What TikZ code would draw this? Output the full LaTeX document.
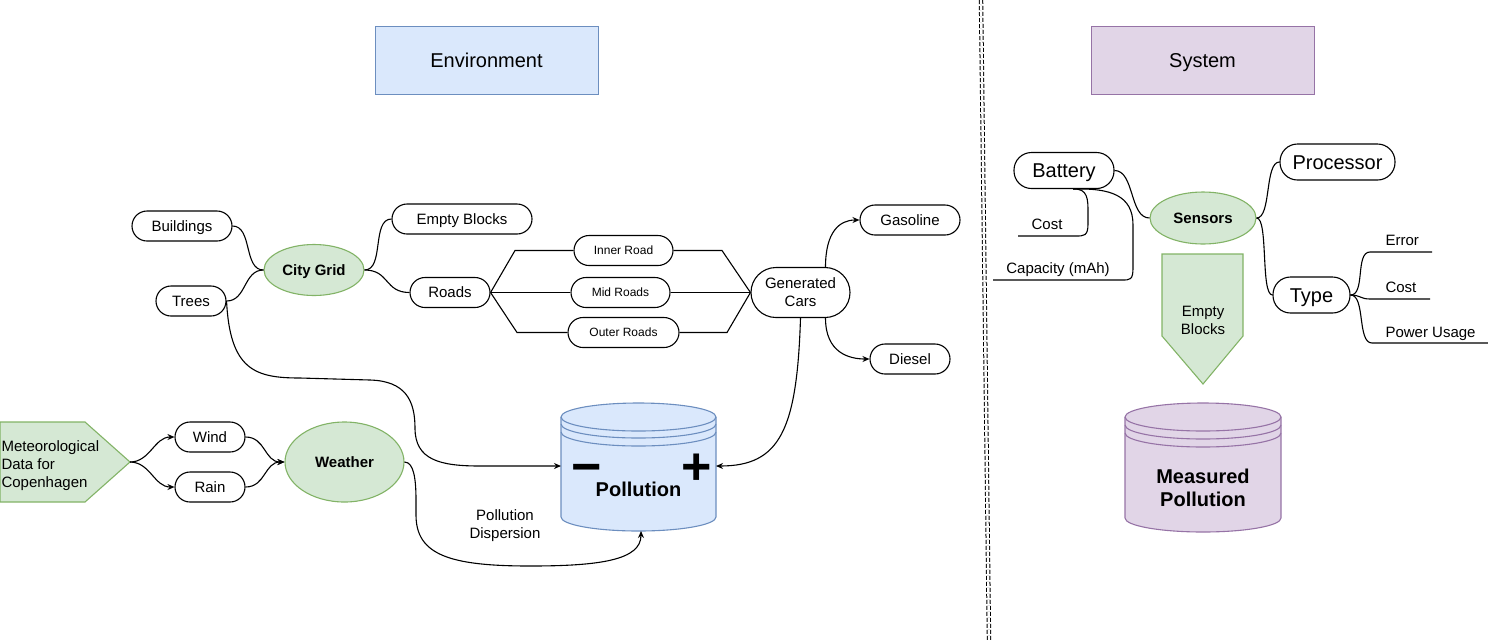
\documentclass[tikz,border=0pt]{standalone}
\usepackage{fontspec}
\setmainfont{Liberation Sans}
\usetikzlibrary{shapes.geometric,arrows.meta}
\definecolor{envfill}{HTML}{DAE8FC}
\definecolor{envline}{HTML}{6C8EBF}
\definecolor{sysfill}{HTML}{E1D5E7}
\definecolor{sysline}{HTML}{9673A6}
\definecolor{grnfill}{HTML}{D5E8D4}
\definecolor{grnline}{HTML}{82B366}
\newcommand{\fsize}[1]{\fontsize{#1}{1.2\dimexpr #1pt\relax}\selectfont}

\begin{document}
\begin{tikzpicture}[x=1pt,y=-1pt,line width=1.1pt,
	pill/.style={draw, rounded corners=15pt, minimum height=30pt, inner sep=0pt, font=\fsize{15}, text height=10.8pt, text depth=0pt},
	bigpill/.style={draw, rounded corners=17.5pt, minimum height=36pt, inner sep=0pt, font=\fsize{20}, text height=14.4pt, text depth=0pt},
	smallpill/.style={pill, font=\fsize{12}, text height=8.6pt},
	topic/.style={ellipse, draw=grnline, fill=grnfill, inner sep=0pt, font=\fsize{15}\bfseries, text height=10.8pt, text depth=0pt},
	headbox/.style={line width=1pt},
	leaf/.style={anchor=west, inner sep=0pt, font=\fsize{15}, text height=10.8pt, text depth=0pt},
	arr/.style={-{Stealth[length=7pt,width=6pt]}}]
		\useasboundingbox (0,0) rectangle (1488,641);

		% HEADERS
		\draw[headbox, fill=envfill, draw=envline] (375,26) rectangle (598,94) node (env) [pos=0.5, font=\fsize{20}, text height=14.4pt, text depth=0pt] {Environment};
		\draw[headbox, fill=sysfill, draw=sysline] (1091,26) rectangle (1314,94) node (sys) [pos=0.5, font=\fsize{20}, text height=14.4pt, text depth=0pt] {System};
		\coordinate (septop) at (981,0);
		\coordinate (sepbot) at (989,641);
		\draw[double, double distance=2.4pt, line width=1pt, dash pattern=on 4pt off 2pt] (septop) -- (sepbot);

		% CITY GRID
		\node[topic, minimum width=100pt, minimum height=51pt] (citygrid) at (314,270) {City Grid};
		\node[pill, minimum width=100pt] (buildings) at (182,226) {Buildings};
		\node[pill, minimum width=70pt] (trees) at (191,301) {Trees};
		\node[pill, minimum width=140pt] (emptyblocks) at (462,219) {Empty Blocks};
		\node[pill, minimum width=80pt] (roads) at (450,292.5) {Roads};
		\node[smallpill, minimum width=99pt] (innerroad) at (623.5,250.5) {Inner Road};
		\node[smallpill, minimum width=99pt] (midroads) at (620.5,292.5) {Mid Roads};
		\node[smallpill, minimum width=111pt] (outerroads) at (623.5,332.5) {Outer Roads};
		\node[pill, rounded corners=25pt, minimum width=99pt, minimum height=50pt, align=center, text height=, text depth=] (gencars) at (800.5,292.5) {Generated\\Cars};
		\node[pill, minimum width=100pt] (gasoline) at (910,220) {Gasoline};
		\node[pill, minimum width=80pt] (diesel) at (910,359) {Diesel};

		% WEATHER
		\filldraw[fill=grnfill, draw=grnline] (0,422) -- (85,422) -- (130,462) -- (85,502) -- (0,502) -- cycle;
		\node[anchor=west, inner sep=0pt, font=\fsize{15}, align=left] (meteo) at (1,466) {Meteorological\\Data for\\Copenhagen};
		\coordinate (meteotip) at (130,462);
		\node[pill, minimum width=70pt] (wind) at (210,437) {Wind};
		\node[pill, minimum width=70pt] (rain) at (210,487) {Rain};
		\node[topic, minimum width=119pt, minimum height=80pt] (weather) at (344.5,462) {Weather};

		% POLLUTION
		\filldraw[fill=envfill, draw=envline] (561,417) -- (561,517) arc[start angle=180, end angle=360, x radius=77.5pt, y radius=14pt] -- (716,417) arc[start angle=0, end angle=180, x radius=77.5pt, y radius=14pt] -- cycle;
		\draw[envline] (561,417) arc[start angle=180, end angle=360, x radius=77.5pt, y radius=14pt];
		\draw[envline] (561,424) arc[start angle=180, end angle=360, x radius=77.5pt, y radius=14pt];
		\draw[envline] (561,432) arc[start angle=180, end angle=360, x radius=77.5pt, y radius=14pt];
		\node[font=\fsize{20}\bfseries] (polltxt) at (638.5,489) {Pollution};
		\node[anchor=base, inner sep=0pt, font=\fsize{52}\bfseries] (minus) at (587,484) {−};
		\node[anchor=base, inner sep=0pt, font=\fsize{52}\bfseries] (plus) at (697,484) {+};
		\coordinate (pollW) at (561,466);
		\coordinate (pollE) at (716,466);
		\coordinate (pollS) at (641,531);
		\node[font=\fsize{15}, align=center] (dispersion) at (505,526) {Pollution\\Dispersion};

		% SYSTEM
		\node[topic, minimum width=106pt, minimum height=52pt] (sensors) at (1203,218) {Sensors};
		\node[bigpill, minimum width=100pt] (batt) at (1064,170.5) {Battery};
		\node[bigpill, minimum width=115pt] (processor) at (1337.5,162) {Processor};
		\node[bigpill, minimum width=77pt] (type) at (1311.5,295) {Type};
		\node[font=\fsize{15}, inner sep=0pt, text height=10.8pt, text depth=0pt] (bcost) at (1047,224) {Cost};
		\node[font=\fsize{15}, inner sep=0pt, text height=10.8pt, text depth=0pt] (cap) at (1058,268) {Capacity (mAh)};
		\coordinate (bcostL) at (1018,236);
		\coordinate (capL) at (993,280);
		\node[leaf] (error) at (1385,240) {Error};
		\node[leaf] (tcost) at (1385,287) {Cost};
		\node[leaf] (power) at (1385,332) {Power Usage};
		\coordinate (errL) at (1370,252);
		\coordinate (errR) at (1432,252);
		\coordinate (tcostL) at (1370,299);
		\coordinate (tcostR) at (1430,299);
		\coordinate (powL) at (1372,343);
		\coordinate (powR) at (1488,343);
		\filldraw[fill=grnfill, draw=grnline] (1162,254) -- (1243,254) -- (1243,336) -- (1203,384) -- (1162,336) -- cycle;
		\node[font=\fsize{15}, align=center] (arrowtxt) at (1203,320) {Empty\\Blocks};
		\filldraw[fill=sysfill, draw=sysline] (1125,417) -- (1125,518) arc[start angle=180, end angle=360, x radius=78pt, y radius=14pt] -- (1281,417) arc[start angle=0, end angle=180, x radius=78pt, y radius=14pt] -- cycle;
		\draw[sysline] (1125,417) arc[start angle=180, end angle=360, x radius=78pt, y radius=14pt];
		\draw[sysline] (1125,425) arc[start angle=180, end angle=360, x radius=78pt, y radius=14pt];
		\draw[sysline] (1125,433) arc[start angle=180, end angle=360, x radius=78pt, y radius=14pt];
		\node[font=\fontsize{20}{23}\selectfont\bfseries, align=center] (measured) at (1203,488) {Measured\\Pollution};

		% ARROWS
		\draw (buildings.east) .. controls +(20,0) and +(-20,0) .. (citygrid.west);
		\draw (trees.east) .. controls +(20,0) and +(-20,0) .. (citygrid.west);
		\draw (citygrid.east) .. controls +(20,0) and +(-20,0) .. (emptyblocks.west);
		\draw (citygrid.east) .. controls +(25,0) and +(-25,0) .. (roads.west);
		\draw (roads.east) -- (515,250.5) -- (innerroad.west);
		\draw (roads.east) -- (midroads.west);
		\draw (roads.east) -- (517,332.5) -- (outerroads.west);
		\draw (innerroad.east) -- (722,250.5) -- (gencars.west);
		\draw (midroads.east) -- (gencars.west);
		\draw (outerroads.east) -- (727,332.5) -- (gencars.west);
		\draw[arr] ([xshift=25pt]gencars.north) .. controls +(0,-35) and +(-20,0) .. (gasoline.west);
		\draw[arr] ([xshift=25pt]gencars.south) .. controls +(0,35) and +(-20,0) .. (diesel.west);
		\draw[arr] (gencars.south) .. controls (797,430) and (780,466) .. (pollE);
		\draw[arr] (trees.east) .. controls (230,370) and (255,378) .. (300,378) -- (370,380) .. controls (405,381) and (415,400) .. (415,428) .. controls (415,460) and (440,466) .. (480,466) -- (pollW);
		\draw[arr] (meteotip) .. controls +(20,0) and +(-20,0) .. (wind.west);
		\draw[arr] (meteotip) .. controls +(20,0) and +(-20,0) .. (rain.west);
		\draw[arr] (wind.east) .. controls +(20,0) and +(-20,0) .. (weather.west);
		\draw[arr] (rain.east) .. controls +(20,0) and +(-20,0) .. (weather.west);
		\draw[arr] (weather.east) .. controls (414,462) and (416,480) .. (416,500) -- (416,515) .. controls (416,555) and (450,566) .. (530,566) .. controls (600,566) and (641,560) .. (pollS);
		\draw (batt.east) .. controls +(20,0) and +(-20,0) .. (sensors.west);
		\draw (sensors.east) .. controls +(15,0) and +(-15,0) .. (processor.west);
		\draw (sensors.east) .. controls +(12,0) and +(-12,0) .. (type.west);
		\draw ([xshift=9pt]batt.south) .. controls (1088,188) and (1088,200) .. (1088,212) -- (1088,224) .. controls (1088,236) and (1084,236) .. (1076,236) -- (bcostL);
		\draw ([xshift=9pt]batt.south) .. controls (1110,188) and (1133,195) .. (1133,225) -- (1133,268) .. controls (1133,280) and (1130,280) .. (1122,280) -- (capL);
		\draw (type.east) .. controls +(15,0) and +(-15,0) .. (errL) -- (errR);
		\draw (type.east) .. controls +(10,0) and +(-10,0) .. (tcostL) -- (tcostR);
		\draw (type.east) .. controls +(15,0) and +(-15,0) .. (powL) -- (powR);
	\end{tikzpicture}
\end{document}
